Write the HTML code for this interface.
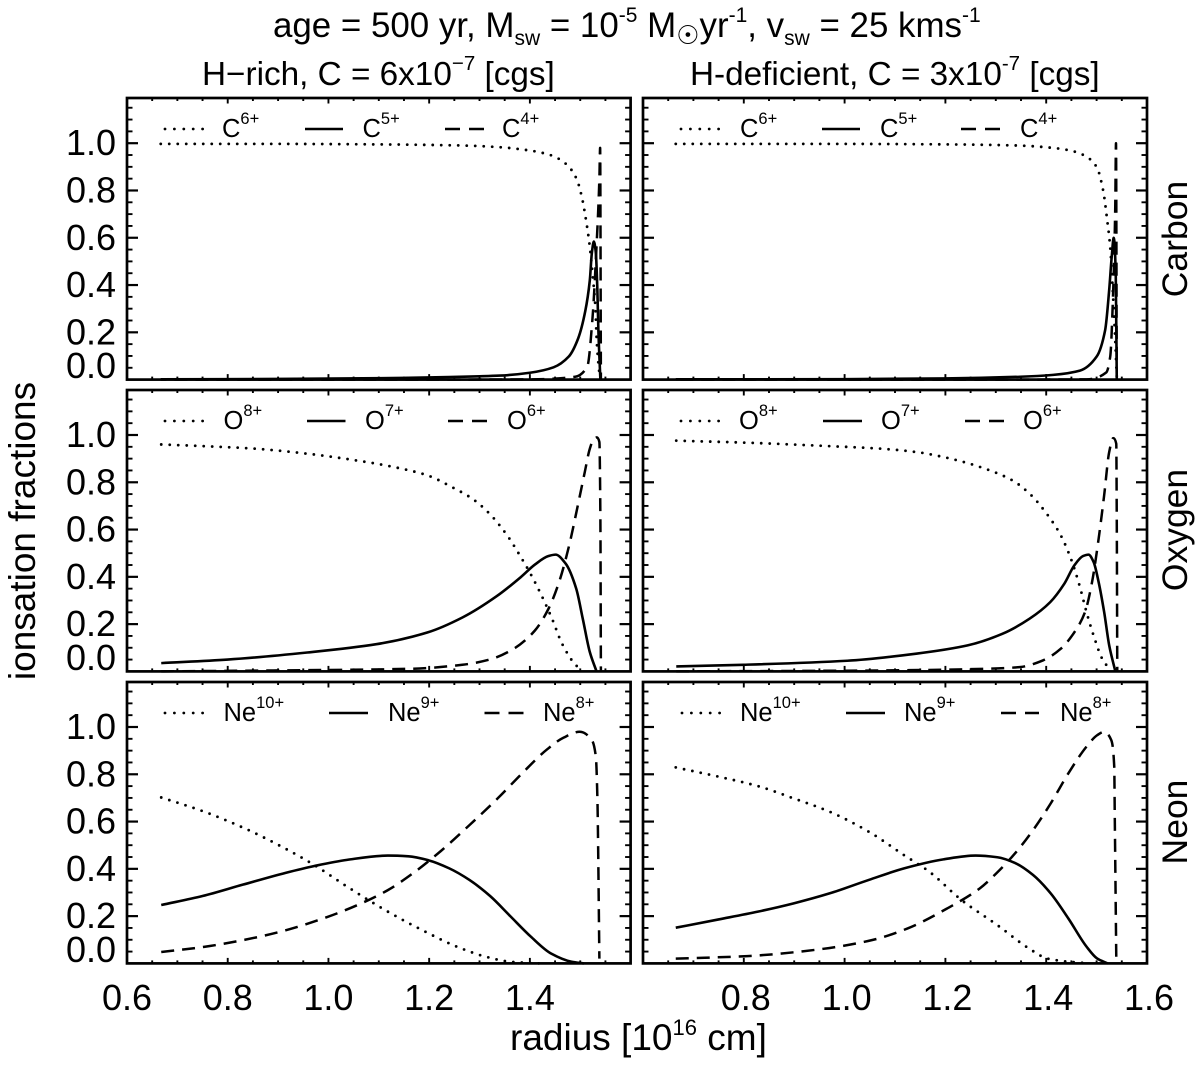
<!DOCTYPE html>
<html lang="en">
<head>
<meta charset="utf-8">
<title>Ionisation fractions</title>
<style>
html,body{margin:0;padding:0;background:#fff;}
svg{display:block;}
text{font-family:"Liberation Sans",sans-serif;fill:#000;}
</style>
</head>
<body>
<svg id="chart" xmlns="http://www.w3.org/2000/svg" width="1200" height="1065" viewBox="0 0 1200 1065">
  <rect x="0" y="0" width="1200" height="1065" fill="#fff"/>
  <text x="273" y="37" font-size="34.9">age = 500 yr, M<tspan dy="8" font-size="21">sw</tspan><tspan dy="-8"> = 10</tspan><tspan dy="-15" font-size="21">-5</tspan><tspan dy="15"> M</tspan><tspan dy="7" font-size="26" style="font-family:'DejaVu Sans',sans-serif">☉</tspan><tspan dy="-7">yr</tspan><tspan dy="-15" font-size="21">-1</tspan><tspan dy="15">, v</tspan><tspan dy="8" font-size="21">sw</tspan><tspan dy="-8"> = 25 kms</tspan><tspan dy="-15" font-size="21">-1</tspan></text>
  <text x="202" y="85" font-size="33.3">H−rich, C = 6x10<tspan dy="-15" font-size="20.5">−7</tspan><tspan dy="15"> [cgs]</tspan></text>
  <text x="690" y="85" font-size="33.3">H-deficient, C = 3x10<tspan dy="-15" font-size="20.5">-7</tspan><tspan dy="15"> [cgs]</tspan></text>
  <text transform="translate(35,531) rotate(-90)" text-anchor="middle" font-size="37">ionsation fractions</text>
  <text x="510" y="1050" font-size="37">radius [10<tspan dy="-15" font-size="22">16</tspan><tspan dy="15"> cm]</tspan></text>
  <text transform="translate(1187,239) rotate(-90)" text-anchor="middle" font-size="35.5">Carbon</text>
  <text transform="translate(1187,530) rotate(-90)" text-anchor="middle" font-size="35.5">Oxygen</text>
  <text transform="translate(1187,822) rotate(-90)" text-anchor="middle" font-size="35.5">Neon</text>
</svg>
<script>
// ---------- tick labels ----------
const yTickLabels = ["0.0","0.2","0.4","0.6","0.8","1.0"];
const xTickLabelsLeft = ["0.6","0.8","1.0","1.2","1.4"];
const xTickLabelsRight = ["0.8","1.0","1.2","1.4","1.6"];

// ---------- Carbon, H-rich ----------
const cRichDotR = [0.667,0.9,1.1,1.27,1.341,1.406,1.443,1.473,1.493,1.503,1.512,1.519,1.525,1.53,1.533,1.538,1.54];
const cRichDotV = [0.997,0.997,0.995,0.99,0.983,0.967,0.948,0.91,0.848,0.774,0.668,0.562,0.435,0.308,0.155,0.028,0];
const cRichSolR = [0.667,0.9,1.1,1.2,1.3,1.341,1.4,1.447,1.477,1.496,1.51,1.519,1.523,1.527,1.531,1.534,1.536,1.54];
const cRichSolV = [0.001,0.003,0.006,0.009,0.014,0.017,0.029,0.052,0.097,0.175,0.29,0.42,0.534,0.584,0.535,0.38,0.21,0];
const cRichDashR = [0.667,1.2,1.4,1.49,1.514,1.524,1.532,1.538,1.5395,1.541];
const cRichDashV = [0,0,0.001,0.012,0.055,0.25,0.55,0.85,0.98,0];

// ---------- Carbon, H-deficient ----------
const cDefDotR = [0.665,1.0,1.2,1.348,1.388,1.441,1.474,1.5,1.513,1.521,1.527,1.532,1.537,1.54];
const cDefDotV = [0.997,0.997,0.995,0.99,0.985,0.972,0.95,0.9,0.8,0.675,0.56,0.38,0.167,0.012];
const cDefSolR = [0.665,1.0,1.2,1.348,1.414,1.467,1.5,1.517,1.525,1.53,1.534,1.538,1.54];
const cDefSolV = [0.001,0.002,0.005,0.012,0.02,0.038,0.097,0.21,0.38,0.52,0.6,0.45,0];
const cDefDashR = [0.665,1.3,1.48,1.519,1.527,1.533,1.537,1.5385,1.54];
const cDefDashV = [0,0,0.001,0.03,0.097,0.38,0.73,1.0,0];

// ---------- Oxygen, H-rich ----------
const oRichDotR = [0.668,0.752,0.855,0.958,1.06,1.129,1.197,1.245,1.286,1.32,1.355,1.382,1.403,1.423,1.444,1.464,1.492,1.505];
const oRichDotV = [0.96,0.953,0.942,0.921,0.891,0.865,0.829,0.78,0.73,0.667,0.575,0.484,0.406,0.322,0.223,0.117,0.025,0.004];
const oRichSolR = [0.668,0.8,0.958,1.095,1.197,1.266,1.334,1.382,1.41,1.437,1.451,1.471,1.492,1.505,1.519,1.532];
const oRichSolV = [0.035,0.05,0.08,0.115,0.165,0.228,0.318,0.399,0.452,0.488,0.494,0.456,0.35,0.223,0.082,0.002];
const oRichDashR = [0.668,0.89,1.163,1.266,1.32,1.368,1.41,1.437,1.458,1.478,1.495,1.509,1.519,1.527,1.533,1.538,1.54,1.541];
const oRichDashV = [0,0.004,0.011,0.028,0.05,0.096,0.173,0.265,0.378,0.533,0.7,0.843,0.942,0.984,0.99,0.97,0.646,0];

// ---------- Oxygen, H-deficient ----------
const oDefDotR = [0.666,0.799,0.936,1.073,1.142,1.21,1.278,1.333,1.367,1.401,1.429,1.449,1.466,1.48,1.494,1.511,1.525];
const oDefDotV = [0.976,0.968,0.956,0.942,0.928,0.9,0.858,0.808,0.752,0.667,0.575,0.477,0.364,0.251,0.152,0.054,0.011];
const oDefSolR = [0.666,0.799,1.005,1.142,1.244,1.313,1.367,1.408,1.436,1.456,1.473,1.484,1.494,1.504,1.515,1.525,1.537];
const oDefSolV = [0.021,0.028,0.045,0.075,0.11,0.159,0.223,0.293,0.371,0.449,0.488,0.494,0.463,0.378,0.251,0.11,0.002];
const oDefDashR = [0.666,1.073,1.278,1.347,1.394,1.429,1.456,1.477,1.491,1.504,1.515,1.525,1.533,1.539,1.54,1.541];
const oDefDashV = [0,0.004,0.011,0.018,0.047,0.096,0.166,0.251,0.378,0.561,0.745,0.928,0.987,0.963,0.646,0.004];

// ---------- Neon, H-rich ----------
const neRichDotR = [0.668,0.753,0.834,0.915,0.972,1.037,1.118,1.199,1.256,1.313,1.361,1.418];
const neRichDotV = [0.702,0.642,0.571,0.485,0.416,0.325,0.219,0.127,0.07,0.028,0.007,0];
const neRichSolR = [0.668,0.75,0.83,0.915,0.972,1.037,1.118,1.159,1.199,1.24,1.28,1.321,1.361,1.402,1.442,1.483,1.507];
const neRichSolV = [0.247,0.285,0.333,0.383,0.412,0.438,0.456,0.453,0.436,0.402,0.353,0.285,0.2,0.113,0.042,0.007,0];
const neRichDashR = [0.668,0.753,0.834,0.915,0.996,1.061,1.118,1.167,1.223,1.28,1.337,1.385,1.434,1.467,1.499,1.523,1.531,1.534,1.538];
const neRichDashV = [0.048,0.07,0.1,0.14,0.195,0.25,0.31,0.38,0.475,0.585,0.7,0.805,0.905,0.955,0.98,0.945,0.874,0.705,0.02];

// ---------- Neon, H-deficient ----------
const neDefDotR = [0.665,0.75,0.828,0.899,0.97,1.048,1.118,1.168,1.232,1.303,1.366,1.402,1.445,1.487];
const neDefDotV = [0.829,0.79,0.75,0.698,0.642,0.557,0.458,0.388,0.268,0.162,0.063,0.021,0.007,0];
const neDefSolR = [0.665,0.75,0.828,0.899,0.97,1.048,1.118,1.196,1.26,1.303,1.338,1.374,1.409,1.444,1.48,1.501,1.522];
const neDefSolV = [0.151,0.186,0.219,0.254,0.296,0.353,0.402,0.44,0.456,0.449,0.425,0.374,0.296,0.19,0.071,0.021,0];
const neDefDashR = [0.665,0.807,0.948,1.055,1.125,1.204,1.268,1.303,1.338,1.374,1.409,1.444,1.48,1.501,1.515,1.529,1.535,1.536,1.539];
const neDefDashV = [0.02,0.031,0.059,0.099,0.148,0.233,0.317,0.385,0.465,0.564,0.677,0.804,0.917,0.965,0.98,0.945,0.832,0.635,0.028];

// ---------- legend text ----------
const carbonIons = ["C","6+","C","5+","C","4+"];
const oxygenIons = ["O","8+","O","7+","O","6+"];
const neonIons = ["Ne","10+","Ne","9+","Ne","8+"];

// ---------- layout (not data) ----------
const SVGNS = "http://www.w3.org/2000/svg";
const svg = document.getElementById("chart");
const X_DOMAIN = [0.6, 1.6];
const Y_PER_UNIT = 236.4;
const DASH_ON = 13;
const DASH_OFF = 8;
const COLS = { rich: { x0: 127, x1: 630.6 }, def: { x0: 643, x1: 1147 } };
const ROWS = { carbon: { top: 98, bottom: 379.6 }, oxygen: { top: 390, bottom: 671.4 }, neon: { top: 682, bottom: 963.4 } };
const STYLES = {
  dot: { dash: "0 8.5", legendDash: "0 9.4", width: 2.8, cap: "round" },
  sol: { dash: "none", legendDash: "none", width: 2.6, cap: "butt" },
  dash: { dash: DASH_ON + " " + DASH_OFF, legendDash: "15 9", width: 2.5, cap: "butt" }
};
const panels = [
  { id: "carbon-h-rich", col: "rich", row: "carbon", ions: carbonIons, legendX: [[165,204,222],[305,343,362.5],[445,485,502]],
    series: [["dot",cRichDotR,cRichDotV],["sol",cRichSolR,cRichSolV],["dash",cRichDashR,cRichDashV]] },
  { id: "carbon-h-deficient", col: "def", row: "carbon", ions: carbonIons, legendX: [[681,720,740],[822,860,880],[961,1000,1020]],
    series: [["dot",cDefDotR,cDefDotV],["sol",cDefSolR,cDefSolV],["dash",cDefDashR,cDefDashV]] },
  { id: "oxygen-h-rich", col: "rich", row: "oxygen", ions: oxygenIons, legendX: [[165,204,223.5],[307,345.5,365],[448,487,507]],
    series: [["dot",oRichDotR,oRichDotV],["sol",oRichSolR,oRichSolV],["dash",oRichDashR,oRichDashV]] },
  { id: "oxygen-h-deficient", col: "def", row: "oxygen", ions: oxygenIons, legendX: [[681,720,739],[823,862,881],[965,1004,1023]],
    series: [["dot",oDefDotR,oDefDotV],["sol",oDefSolR,oDefSolV],["dash",oDefDashR,oDefDashV]] },
  { id: "neon-h-rich", col: "rich", row: "neon", ions: neonIons, legendX: [[165,204,223.5],[329,368,388],[484.5,524,543]],
    series: [["dot",neRichDotR,neRichDotV],["sol",neRichSolR,neRichSolV],["dash",neRichDashR,neRichDashV]] },
  { id: "neon-h-deficient", col: "def", row: "neon", ions: neonIons, legendX: [[682,720,740],[846,885,904],[1001,1039,1060]],
    series: [["dot",neDefDotR,neDefDotV],["sol",neDefSolR,neDefSolV],["dash",neDefDashR,neDefDashV]] }
];
const SERIES_NAMES = { dot: "dotted", sol: "solid", dash: "dashed" };

function mk(tag, attrs, parent) {
  const el = document.createElementNS(SVGNS, tag);
  for (const k in attrs) el.setAttribute(k, attrs[k]);
  (parent || svg).appendChild(el);
  return el;
}

function xScale(col, r) {
  return col.x0 + (r - X_DOMAIN[0]) * (col.x1 - col.x0) / (X_DOMAIN[1] - X_DOMAIN[0]);
}
function yScale(row, v) {
  return row.bottom - v * Y_PER_UNIT;
}
// Monotone cubic (Fritsch-Butland) through the scaled data points
function curvePath(col, row, rs, vs) {
  const xs = rs.map(r => xScale(col, r));
  const ys = vs.map(v => yScale(row, v));
  const n = xs.length;
  const h = [], m = [];
  for (let i = 0; i < n - 1; i++) {
    h.push(xs[i + 1] - xs[i]);
    m.push((ys[i + 1] - ys[i]) / h[i]);
  }
  const t = new Array(n);
  t[0] = m[0];
  t[n - 1] = m[n - 2];
  for (let i = 1; i < n - 1; i++) {
    if (m[i - 1] * m[i] <= 0) { t[i] = 0; continue; }
    const w1 = 2 * h[i] + h[i - 1], w2 = h[i] + 2 * h[i - 1];
    t[i] = (w1 + w2) / (w1 / m[i - 1] + w2 / m[i]);
  }
  let d = "M" + xs[0].toFixed(2) + " " + ys[0].toFixed(2);
  for (let i = 0; i < n - 1; i++) {
    const k = h[i] / 3;
    d += "C" + (xs[i] + k).toFixed(2) + " " + (ys[i] + t[i] * k).toFixed(2) + " " +
      (xs[i + 1] - k).toFixed(2) + " " + (ys[i + 1] - t[i + 1] * k).toFixed(2) + " " +
      xs[i + 1].toFixed(2) + " " + ys[i + 1].toFixed(2);
  }
  return d;
}

function drawAxes(p, col, row) {
  const topLimit = (row.bottom - row.top) / Y_PER_UNIT;
  const g = mk("g", { stroke: "#000", "stroke-width": 1.9 });
  
  
  for (let i = 1; i * 0.05 < topLimit; i++) {
    const y = yScale(row, i * 0.05);
    const major = i % 4 === 0;
    const len = major ? 11 : 5.5;
    const sw = major ? 2.2 : 1.9;
    const a = mk("line", { x1: col.x0, x2: col.x0 + len, y1: y, y2: y, "stroke-width": sw }, g);
    
    
    const b = mk("line", { x1: col.x1, x2: col.x1 - len, y1: y, y2: y, "stroke-width": sw }, g);
    
    
  }
  for (let i = 1; i < 20; i++) {
    const x = xScale(col, X_DOMAIN[0] + i * 0.05);
    const len = i % 4 === 0 ? 5.5 : 3;
    const a = mk("line", { x1: x, x2: x, y1: row.top, y2: row.top + len }, g);
    
    
    const b = mk("line", { x1: x, x2: x, y1: row.bottom, y2: row.bottom - len }, g);
    
    
  }
  const frame = mk("rect", { x: col.x0, y: row.top, width: col.x1 - col.x0, height: row.bottom - row.top, fill: "none", stroke: "#000", "stroke-width": 2.7 });
  
  
}

function drawTickLabels(p, col, row) {
  if (p.col === "rich") {
    yTickLabels.forEach(label => {
      const v = parseFloat(label);
      const y = v === 0 ? row.bottom - 1.5 : yScale(row, v) + 12;
      const t = mk("text", { x: 116, y: y, "text-anchor": "end", "font-size": 36 });
      
      
      t.textContent = label;
    });
  }
  if (p.row === "neon") {
    const labels = p.col === "rich" ? xTickLabelsLeft : xTickLabelsRight;
    labels.forEach(label => {
      const x = xScale(col, parseFloat(label));
      const t = mk("text", { x: x + (p.col === "def" ? 2 : 0), y: 1010, "text-anchor": "middle", "font-size": 36 });
      
      
      t.textContent = label;
    });
  }
}

function drawSeries(p, col, row) {
  p.series.forEach(s => {
    const st = STYLES[s[0]];
    const path = mk("path", {
      d: curvePath(col, row, s[1], s[2]), fill: "none", stroke: "#000",
      "stroke-width": st.width, "stroke-linecap": st.cap, "stroke-linejoin": "round", "stroke-dasharray": st.dash
    });
    
    
    // Carbon's dashed spike retraces itself: centre a dash on the peak so the gaps line up.
    if (s[0] === "dash" && p.row === "carbon") {
      const peak = s[2].indexOf(Math.max.apply(null, s[2]));
      const head = mk("path", { d: curvePath(col, row, s[1].slice(0, peak + 1), s[2].slice(0, peak + 1)), fill: "none" });
      const toPeak = head.getTotalLength();
      svg.removeChild(head);
      path.setAttribute("stroke-dashoffset", (DASH_ON / 2 - toPeak).toFixed(2));
    }
  });
}

function drawLegend(p, row) {
  const keys = ["dot", "sol", "dash"];
  keys.forEach((key, i) => {
    const lx = p.legendX[i];
    const st = STYLES[key];
    const y = row.top + 31;
    const line = mk("line", {
      x1: lx[0], x2: lx[1], y1: y, y2: y, stroke: "#000",
      "stroke-width": st.width, "stroke-linecap": st.cap, "stroke-dasharray": st.legendDash
    });
    
    
    const t = mk("text", { x: lx[2], y: row.top + 39, "font-size": 25.5 });
    
    
    t.appendChild(document.createTextNode(p.ions[i * 2]));
    const sup = mk("tspan", { dy: -13, "font-size": 16.5 }, t);
    
    
    sup.textContent = p.ions[i * 2 + 1];
  });
}

panels.forEach(p => {
  const col = COLS[p.col];
  const row = ROWS[p.row];
  drawAxes(p, col, row);
  drawTickLabels(p, col, row);
  drawSeries(p, col, row);
  drawLegend(p, row);
});
</script>
</body>
</html>
